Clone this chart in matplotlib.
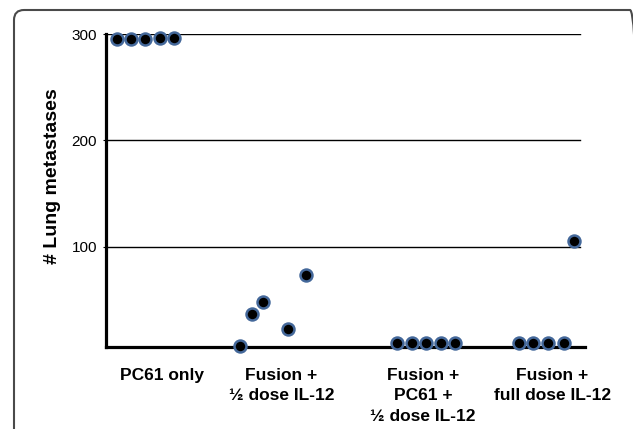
import matplotlib
matplotlib.use("Agg")
import matplotlib.pyplot as plt
from matplotlib.patches import FancyBboxPatch
import numpy as np

plt.rcParams['font.family'] = ['Liberation Sans', 'DejaVu Sans']

# ---- data ----
categories = ["PC61 only", "Fusion +\n½ dose IL-12", "Fusion +\nPC61 +\n½ dose IL-12", "Fusion +\nfull dose IL-12"]
pc61_only = [295, 295, 295, 296, 296]
fusion_half = [7, 37, 48, 23, 74]
fusion_pc61_half = [9.5, 9.5, 9.5, 10, 10]
fusion_full = [9.5, 9.5, 9.5, 9.5, 106]
groups = [pc61_only, fusion_half, fusion_pc61_half, fusion_full]
y_ticks = [100, 200, 300]

# ---- layout (horizontal scatter offsets within each group) ----
offsets = [
    [-0.21, -0.105, 0.0, 0.11, 0.22],
    [-0.29, -0.20, -0.12, 0.07, 0.20],
    [-0.115, 0.0, 0.10, 0.21, 0.32],
    [-0.20, -0.10, 0.015, 0.13, 0.21],
]
label_offsets = [0.13, 0.02, 0.08, 0.045]

fig = plt.figure(figsize=(6.33, 4.29), dpi=100)
W, H = 633, 429
ax = fig.add_axes([106 / W, (H - 347) / H, (585 - 106) / W, (347 - 34) / H])

for i, (vals, offs) in enumerate(zip(groups, offsets)):
    xs = [i + o for o in offs]
    ax.plot(xs, vals, linestyle='none', marker='o', markersize=8.6,
            markerfacecolor='black', markeredgecolor='#44689a',
            markeredgewidth=1.8, clip_on=False, zorder=5)

ax.set_xlim(-0.292, 3.29)
ax.set_ylim(6, 300)

for yv in y_ticks:
    ax.axhline(yv, xmin=0, xmax=(580 - 106) / (585 - 106), color='black', lw=1.0, zorder=1)

ax.set_yticks(y_ticks)
ax.set_yticklabels([str(v) for v in y_ticks], fontsize=11)
ax.tick_params(axis='y', length=2.5, width=0.8, pad=4)

ax.set_xticks([i + o for i, o in enumerate(label_offsets)])
ax.set_xticklabels(categories, fontsize=12.5, fontweight='bold', va='top', linespacing=1.45)
ax.tick_params(axis='x', length=0, pad=15)

for s in ['top', 'right']:
    ax.spines[s].set_visible(False)
ax.spines['left'].set_linewidth(2.3)
ax.spines['bottom'].set_linewidth(2.3)

fig.text(53 / W, 1 - 176 / H, "# Lung metastases", rotation=90, ha='center', va='center',
         fontsize=14, fontweight='bold')

frame = FancyBboxPatch((0.14, -0.3), 6.26, 4.49, boxstyle="round,pad=0,rounding_size=0.1",
                       transform=fig.dpi_scale_trans, facecolor='none', edgecolor='#4a4a4a',
                       linewidth=1.5)
fig.patches.append(frame)

fig.savefig("out.png", dpi=100)
